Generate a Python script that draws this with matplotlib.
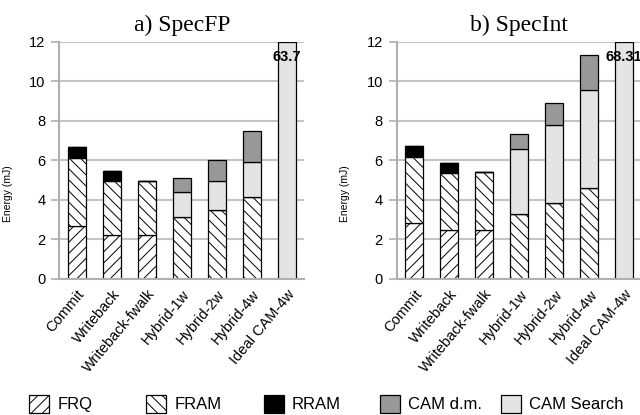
import numpy as np
import matplotlib
matplotlib.use('Agg')
from matplotlib import pyplot as plt
from matplotlib.patches import Patch

plt.rcParams['font.family'] = ['Liberation Sans', 'DejaVu Sans']
plt.rcParams['hatch.linewidth'] = 0.7

configs = ['Commit', 'Writeback', 'Writeback-fwalk', 'Hybrid-1w',
           'Hybrid-2w', 'Hybrid-4w', 'Ideal CAM-4w']
components = ['FRQ', 'FRAM', 'RRAM', 'CAM Search', 'CAM d.m.']
legend_order = ['FRQ', 'FRAM', 'RRAM', 'CAM d.m.', 'CAM Search']

# energy per component (mJ)
specfp = {
    'FRQ':        [2.68, 2.19, 2.19, 0.00, 0.00, 0.00, 0.0],
    'FRAM':       [3.43, 2.77, 2.77, 3.12, 3.46, 4.14, 0.0],
    'RRAM':       [0.57, 0.48, 0.00, 0.00, 0.00, 0.00, 0.0],
    'CAM Search': [0.00, 0.00, 0.00, 1.28, 1.49, 1.75, 63.7],
    'CAM d.m.':   [0.00, 0.00, 0.00, 0.71, 1.04, 1.60, 0.0],
}
specint = {
    'FRQ':        [2.82, 2.45, 2.45, 0.00, 0.00, 0.00, 0.0],
    'FRAM':       [3.36, 2.90, 2.97, 3.28, 3.82, 4.58, 0.0],
    'RRAM':       [0.55, 0.51, 0.00, 0.00, 0.00, 0.00, 0.0],
    'CAM Search': [0.00, 0.00, 0.00, 3.30, 3.98, 4.97, 68.31],
    'CAM d.m.':   [0.00, 0.00, 0.00, 0.76, 1.11, 1.76, 0.0],
}
totals_label = {'a) SpecFP': '63.7', 'b) SpecInt': '68.31'}

styles = {
    'FRQ':        dict(color='white', hatch='///'),
    'FRAM':       dict(color='white', hatch='\\\\\\'),
    'RRAM':       dict(color='black', hatch=None),
    'CAM d.m.':   dict(color='#989898', hatch=None),
    'CAM Search': dict(color='#e4e4e4', hatch=None),
}

ymax = 12
fig = plt.figure(figsize=(6.4, 4.15), dpi=100)
ax1 = fig.add_axes([0.0927, 0.3284, 0.3828, 0.5711])
ax2 = fig.add_axes([0.6198, 0.3284, 0.3828, 0.5711])

for ax, title, data in [(ax1, 'a) SpecFP', specfp), (ax2, 'b) SpecInt', specint)]:
    x = np.arange(len(configs))
    bottom = np.zeros(len(configs))
    for comp in components:
        vals = np.array(data[comp])
        # bars taller than the axis are cut at the top so the edge shows
        h = np.minimum(bottom + vals, ymax) - np.minimum(bottom, ymax)
        st = styles[comp]
        ax.bar(x, np.where(vals > 0, h, 0), 0.51, bottom=bottom,
               color=st['color'], hatch=st['hatch'], edgecolor='black',
               linewidth=0.9)
        bottom = bottom + vals
    big = np.argmax(bottom)
    ax.text(x[big], 11.25, totals_label[title], ha='center', va='center',
            fontsize=10.5, fontweight='bold')

    ax.set_xlim(-0.5, len(configs) - 0.5)
    ax.set_ylim(0, ymax)
    ax.set_yticks(range(0, 13, 2))
    ax.grid(axis='y', color='#c4c4c4', linewidth=1.5)
    ax.set_axisbelow(True)
    for s in ['top', 'right']:
        ax.spines[s].set_visible(False)
    for s in ['left', 'bottom']:
        ax.spines[s].set_color('#b0b0b0')
        ax.spines[s].set_linewidth(1.5)
    ax.tick_params(axis='y', length=6, width=1.2, color='#b0b0b0',
                   labelsize=10.5, pad=4)
    ax.tick_params(axis='x', length=0, pad=6)
    ax.set_xticks(x)
    ax.set_xticklabels(configs, rotation=50, ha='right',
                       rotation_mode='anchor', fontsize=10.5)
    ax.set_ylabel('Energy (mJ)', fontsize=7.5)
    ax.yaxis.set_label_coords(-0.19, 0.36)
    ax.set_title(title, fontsize=17, family='Liberation Serif', pad=8)

# legend entries sit at fixed spacing along the bottom
leg_x = [0.046, 0.228, 0.412, 0.593, 0.783]
for c, lx in zip(legend_order, leg_x):
    h = Patch(facecolor=styles[c]['color'], hatch=styles[c]['hatch'],
              edgecolor='black', linewidth=0.9, label=c)
    leg = fig.legend(handles=[h], loc='center left', bbox_to_anchor=(lx, 0.027),
                     frameon=False, fontsize=12, handlelength=1.2,
                     handleheight=1.3, handletextpad=0.5,
                     borderaxespad=0, borderpad=0)

fig.savefig('out.png', dpi=100)
